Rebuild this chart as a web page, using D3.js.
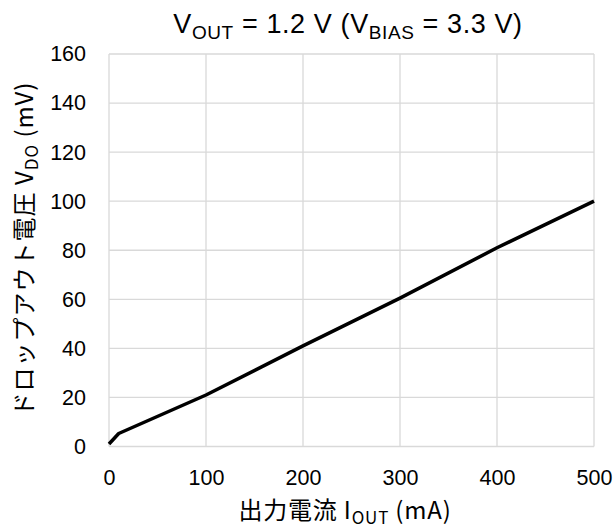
<!DOCTYPE html>
<html lang="ja">
<head>
  <meta charset="UTF-8">
  <title>Dropout voltage</title>
  <style>
    body { margin: 0; background: #fff; }
    svg { display: block; }
    .tick text { font-family: "Liberation Sans", Arial, sans-serif; font-size: 21.5px; fill: #000; }
    .grid line { stroke: #d9d9d9; stroke-width: 1.3; }
  </style>
</head>
<body>
  <svg width="614" height="530"></svg>
  <script src="https://d3js.org/d3.v7.min.js"></script>
  <script>
    const current = [0, 10, 100, 200, 300, 400, 500];   // mA
    const dropout = [1, 5.3, 21, 41, 60.5, 81, 100];    // mV
    const xTicks = [0, 100, 200, 300, 400, 500];
    const yTicks = [0, 20, 40, 60, 80, 100, 120, 140, 160];

    const svg = d3.select("svg");
    const pLeft = 109, pRight = 594, pTop = 54, pBottom = 446.5;

    const x = d3.scaleLinear().domain([0, 500]).range([pLeft, pRight]);
    const y = d3.scaleLinear().domain([0, 160]).range([pBottom, pTop]);

    // gridlines
    const grid = svg.append("g").attr("class", "grid");
    grid.selectAll(".v").data(xTicks).join("line")
      .attr("x1", d => x(d)).attr("x2", d => x(d))
      .attr("y1", pTop).attr("y2", pBottom);
    grid.selectAll(".h").data(yTicks).join("line")
      .attr("x1", pLeft).attr("x2", pRight)
      .attr("y1", d => y(d)).attr("y2", d => y(d));

    // axes (labels only)
    svg.append("g")
      .attr("transform", `translate(0,${pBottom})`)
      .call(d3.axisBottom(x).tickValues(xTicks).tickSize(0).tickPadding(23))
      .call(g => g.select(".domain").remove());
    svg.append("g")
      .attr("transform", `translate(${pLeft},0)`)
      .call(d3.axisLeft(y).tickValues(yTicks).tickSize(0).tickPadding(23))
      .call(g => g.select(".domain").remove());

    // curve
    const pts = current.map((c, i) => [c, dropout[i]]);
    svg.append("path")
      .datum(pts)
      .attr("fill", "none")
      .attr("stroke", "#000")
      .attr("stroke-width", 3.5)
      .attr("stroke-linejoin", "round")
      .attr("d", d3.line().x(d => x(d[0])).y(d => y(d[1])));

    // title
    const title = svg.append("text")
      .attr("x", 348).attr("y", 33)
      .attr("text-anchor", "middle")
      .style("font-family", "'Liberation Sans', Arial, sans-serif")
      .style("font-size", "27px")
      .style("letter-spacing", "0.6px");
    title.append("tspan").text("V");
    title.append("tspan").attr("dy", 6).style("font-size", "19px").text("OUT");
    title.append("tspan").attr("dy", -6).text(" = 1.2 V (V");
    title.append("tspan").attr("dy", 6).style("font-size", "19px").text("BIAS");
    title.append("tspan").attr("dy", -6).text(" = 3.3 V)");

    // x axis title
    const xt = svg.append("text")
      .attr("x", 345).attr("y", 519)
      .attr("text-anchor", "middle")
      .style("font-family", "'Noto Sans CJK JP', sans-serif")
      .style("font-size", "24px")
      .style("letter-spacing", "0.8px");
    xt.append("tspan").text("出力電流 I");
    xt.append("tspan").attr("dy", 5).style("font-size", "17px").text("OUT");
    xt.append("tspan").attr("dy", -5).text(" (mA)");

    // y axis title
    const yt = svg.append("text")
      .attr("transform", `translate(33,249) rotate(-90)`)
      .attr("text-anchor", "middle")
      .style("font-family", "'Noto Sans CJK JP', sans-serif")
      .style("font-size", "24px")
      .style("letter-spacing", "1px");
    yt.append("tspan").text("ドロップアウト電圧 V");
    yt.append("tspan").attr("dy", 5).style("font-size", "17px").text("DO");
    yt.append("tspan").attr("dy", -5).text(" (mV)");
  </script>
</body>
</html>
